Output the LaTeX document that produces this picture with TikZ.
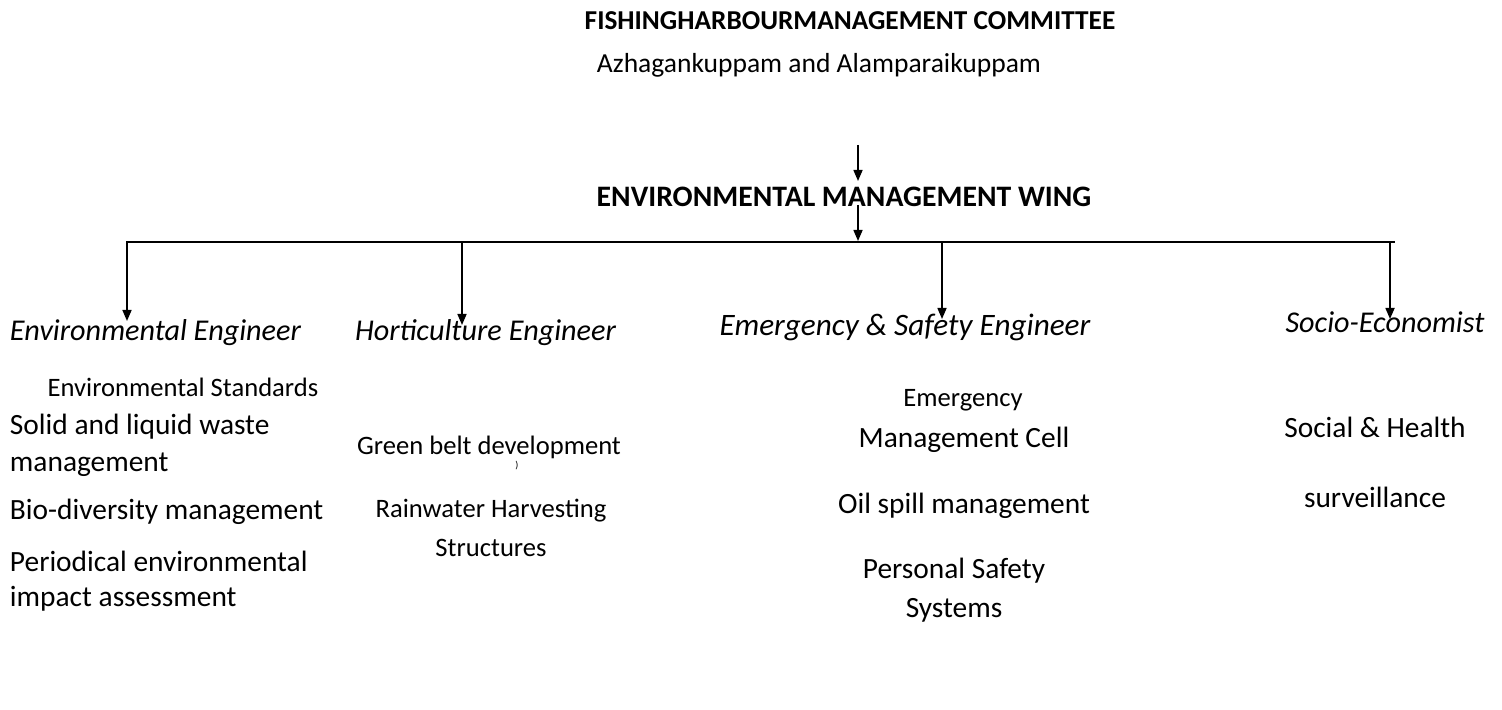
\documentclass[tikz,border=0pt]{standalone}
\usepackage{fontspec}
\setmainfont{Carlito}
\usetikzlibrary{arrows.meta}
\begin{document}
\begin{tikzpicture}[x=0.5pt,y=-0.5pt,
  every node/.style={inner sep=0pt,outer sep=0pt},
  big/.style={font=\fontsize{14.7}{17}\selectfont},
  small/.style={font=\fontsize{13.3}{16}\selectfont},
  head/.style={font=\fontsize{15.1}{18}\selectfont\itshape},
  ttl/.style={font=\fontsize{14.85}{17}\selectfont\bfseries},
  conn/.style={line width=0.8pt,-{Triangle[length=5.5pt,width=4.5pt]}},
  bar/.style={line width=0.8pt}]
\useasboundingbox (0,0) rectangle (1502,710);
% titles
\node[ttl,font=\fontsize{13.65}{16}\selectfont\bfseries] (fhmc) at (850,21) {FISHINGHARBOURMANAGEMENT COMMITTEE};
\node[small,font=\fontsize{13.76}{16}\selectfont] (place) at (819,65) {Azhagankuppam and Alamparaikuppam};
\node[ttl] (emw) at (844,197) {ENVIRONMENTAL MANAGEMENT WING};
% connector points
\coordinate (a1s) at (858,145); \coordinate (a1e) at (858,181);
\coordinate (a2s) at (858,205); \coordinate (a2e) at (858,241);
\coordinate (hl) at (126,242); \coordinate (hr) at (1395,242);
\coordinate (b1s) at (127,243); \coordinate (b1e) at (127,321);
\coordinate (b2s) at (462,243); \coordinate (b2e) at (462,325);
\coordinate (b3s) at (942,243); \coordinate (b3e) at (942,319);
\coordinate (b4s) at (1390,243); \coordinate (b4e) at (1390,319);
\draw[conn] (a1s) -- (a1e);
\draw[conn] (a2s) -- (a2e);
\draw[bar] (hl) -- (hr);
\draw[conn] (b1s) -- (b1e);
\draw[conn] (b2s) -- (b2e);
\draw[conn] (b3s) -- (b3e);
\draw[conn] (b4s) -- (b4e);
% headings
\node[head,anchor=west] (envE) at (10,333) {Environmental Engineer};
\node[head,anchor=west] (hortE) at (355,333) {Horticulture Engineer};
\node[head,font=\fontsize{15.6}{18}\selectfont\itshape] (emE) at (905,327) {Emergency \& Safety Engineer};
\node[head] (socE) at (1385,322) {Socio-Economist};
% column 1
\node[small] (envS) at (183,387) {Environmental Standards};
\node[big,anchor=west] (solid1) at (10,427) {Solid and liquid waste};
\node[big,anchor=west] (solid2) at (10,465) {management};
\node[big,anchor=west] (bio) at (10,512) {Bio-diversity management};
\node[big,anchor=west] (per1) at (10,561) {Periodical environmental};
\node[big,anchor=west] (per2) at (10,599) {impact assessment};
% column 2
\node[small] (green) at (489,447) {Green belt development};
\node[font=\fontsize{5}{6}\selectfont] (paren) at (517,466) {)};
\node[small] (rain1) at (491,511) {Rainwater Harvesting};
\node[small] (rain2) at (491,548) {Structures};
% column 3
\node[small] (emg) at (963,400) {Emergency};
\node[big] (mgc) at (964,440) {Management Cell};
\node[big] (oil) at (964,506) {Oil spill management};
\node[big] (ps1) at (954,571) {Personal Safety};
\node[big] (ps2) at (954,610) {Systems};
% column 4
\node[big] (sh1) at (1375,427) {Social \& Health};
\node[big] (sh2) at (1375,497) {surveillance};
\end{tikzpicture}
\end{document}
